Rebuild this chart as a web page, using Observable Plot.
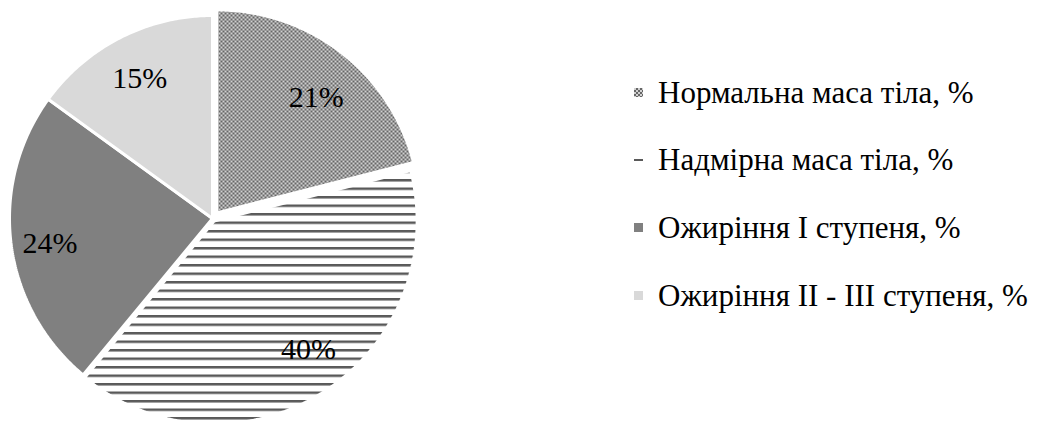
<!DOCTYPE html>
<html><head><meta charset="utf-8">
<script src="https://cdn.jsdelivr.net/npm/d3@7"></script>
<script src="https://cdn.jsdelivr.net/npm/@observablehq/plot@0.6"></script>
<style>
body{margin:0;background:#fff;}
#chart{position:relative;width:1040px;height:422px;overflow:hidden;font-family:"Liberation Serif","Times New Roman",serif;}
#chart svg{position:absolute;left:0;top:0;}
.lg{position:absolute;left:0;height:31px;line-height:31px;font-size:31px;font-family:"Liberation Serif","Times New Roman",serif;color:#000;white-space:nowrap;}
.lg .mk{position:absolute;left:634px;top:11px;width:9px;height:9px;}
.lg .tx{position:absolute;left:658px;top:0;}
</style>
</head><body><div id="chart"></div>
<script>
const categories = ["Нормальна маса тіла, %", "Надмірна маса тіла, %", "Ожиріння I ступеня, %", "Ожиріння II - III ступеня, %"];
const values = [21, 40, 24, 15];
const labels = ["21%", "40%", "24%", "15%"];
const fills = ["url(#pat-check)", "url(#pat-hatch)", "#808080", "#d9d9d9"];
const explode = [0.035, 0.015, 0, 0];
const labelR = [0.75, 0.785, 0.81, 0.78];
const labelShiftDeg = [3, -3.9, -1.6, -0.4];

const W = 1040, H = 422, cx = 212, cy = 218, R = 203;
const total = d3.sum(values);
let acc = 0;
const slices = values.map((v, i) => {
  const a0 = acc / total * 2 * Math.PI; acc += v;
  const a1 = acc / total * 2 * Math.PI;
  const am = (a0 + a1) / 2;
  const ox = explode[i] * Math.sin(am), oy = explode[i] * Math.cos(am);
  return {i, cat: categories[i], a0, a1, am, ox, oy};
});
function polygon(s) {
  const pts = [{x: s.ox, y: s.oy, cat: s.cat}];
  const n = Math.max(8, Math.ceil((s.a1 - s.a0) / 0.01));
  for (let k = 0; k <= n; k++) {
    const a = s.a0 + (s.a1 - s.a0) * k / n;
    pts.push({x: s.ox + Math.sin(a), y: s.oy + Math.cos(a), cat: s.cat});
  }
  return pts;
}
const labelData = slices.map(s => {
  const a = s.am + labelShiftDeg[s.i] * Math.PI / 180;
  return {x: s.ox + labelR[s.i] * Math.sin(a), y: s.oy + labelR[s.i] * Math.cos(a), text: labels[s.i]};
});

const plot = Plot.plot({
  width: W, height: H,
  margin: 0,
  x: {type: "linear", domain: [-1, 1], range: [cx - R, cx + R], axis: null},
  y: {type: "linear", domain: [-1, 1], range: [cy + R, cy - R], axis: null},
  style: {background: "transparent", overflow: "visible"},
  marks: [
    ...slices.map(s => Plot.line(polygon(s), {x: "x", y: "y", curve: "linear-closed", fill: fills[s.i], stroke: "white", strokeWidth: 3, strokeLinejoin: "miter"})),
    Plot.text(labelData, {x: "x", y: "y", text: "text", fontSize: 30, fontFamily: "Liberation Serif", fill: "#000"})
  ]
});
const defs = d3.select(plot).insert("defs", ":first-child");
const pc = defs.append("pattern").attr("id", "pat-check").attr("patternUnits", "userSpaceOnUse").attr("width", 4).attr("height", 4);
pc.append("rect").attr("width", 4).attr("height", 4).attr("fill", "#d0d0d0");
pc.append("rect").attr("width", 2).attr("height", 2).attr("fill", "#666");
pc.append("rect").attr("x", 2).attr("y", 2).attr("width", 2).attr("height", 2).attr("fill", "#666");
const ph = defs.append("pattern").attr("id", "pat-hatch").attr("patternUnits", "userSpaceOnUse").attr("width", 8.5).attr("height", 8.5);
ph.append("rect").attr("width", 8.5).attr("height", 8.5).attr("fill", "#fff");
ph.append("rect").attr("y", 0).attr("width", 8.5).attr("height", 2.5).attr("fill", "#595959");

const chart = document.getElementById("chart");
chart.appendChild(plot);

const rowY = [92, 159, 227, 295];
categories.forEach((c, i) => {
  const row = document.createElement("div");
  row.className = "lg";
  row.style.top = (rowY[i] - 15.5) + "px";
  const mk = document.createElement("div");
  mk.className = "mk";
  if (i === 0) {
    mk.style.background = "repeating-conic-gradient(#666 0 25%, #d0d0d0 0 50%) 0 0/4px 4px";
  } else if (i === 1) {
    mk.style.background = "linear-gradient(#fff 0 4px, #595959 4px 6px, #fff 6px)";
  } else {
    mk.style.background = fills[i];
  }
  const tx = document.createElement("span");
  tx.className = "tx";
  tx.textContent = c;
  row.appendChild(mk); row.appendChild(tx);
  chart.appendChild(row);
});
</script>
</body></html>
